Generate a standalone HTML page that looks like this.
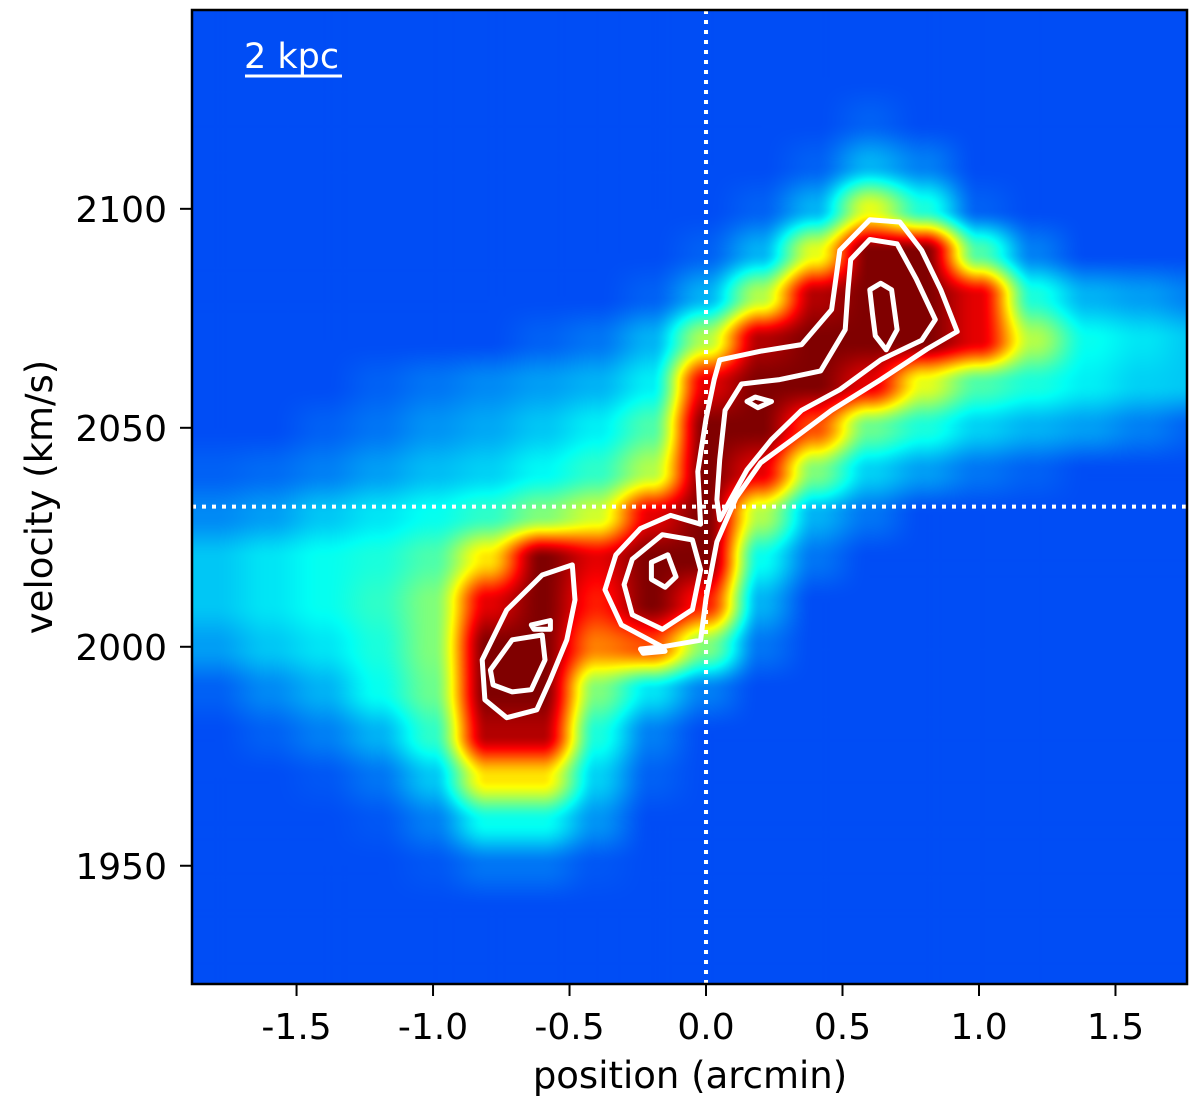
<!DOCTYPE html>
<html><head><meta charset="utf-8">
<style>
html,body{margin:0;padding:0;background:#fff;}
#wrap{position:relative;width:1200px;height:1105px;font-family:"DejaVu Sans","Liberation Sans",sans-serif;}
canvas{position:absolute;left:192px;top:10px;}
svg{position:absolute;left:0;top:0;}
</style></head>
<body>
<div id="wrap">
<canvas id="img" width="995" height="974"></canvas>
<svg id="ax" width="1200" height="1105"></svg>
</div>
<script>
// ---- data ----
const posGrid = [-1.8,-1.6,-1.4,-1.2,-1.0,-0.8,-0.6,-0.4,-0.2,0,0.2,0.4,0.6,0.8,1.0,1.2,1.4,1.6,1.8];
const velGrid = [2140,2130,2120,2110,2100,2090,2080,2070,2060,2050,2040,2030,2020,2010,2000,1990,1980,1970,1960,1950,1940,1930,1920];
const intensity = [
[.2,.2,.2,.2,.2,.2,.2,.2,.2,.2,.2,.2,.2,.2,.2,.2,.2,.2,.2],
[.2,.2,.2,.2,.2,.2,.2,.2,.2,.2,.2,.2,.2,.2,.2,.2,.2,.2,.2],
[.2,.2,.2,.2,.2,.2,.2,.2,.2,.2,.2,.2,.22,.2,.2,.2,.2,.2,.2],
[.2,.2,.2,.2,.2,.2,.2,.2,.2,.2,.2,.22,.3,.25,.2,.2,.2,.2,.2],
[.2,.2,.2,.2,.2,.2,.2,.2,.2,.2,.22,.3,.6,.4,.22,.2,.2,.2,.2],
[.2,.2,.2,.2,.2,.2,.2,.2,.2,.22,.3,.6,1,1,.45,.25,.2,.2,.2],
[.2,.2,.2,.2,.2,.2,.2,.2,.22,.3,.55,.95,1,1,.9,.4,.3,.28,.25],
[.2,.2,.2,.2,.2,.2,.22,.24,.3,.55,.95,1,1,1,.9,.55,.38,.35,.32],
[.2,.2,.2,.22,.24,.26,.28,.3,.36,.9,1,1,.9,.6,.45,.4,.36,.33,.32],
[.2,.2,.22,.24,.27,.29,.32,.36,.45,1,1,.8,.48,.4,.33,.3,.28,.25,.22],
[.22,.23,.25,.28,.31,.33,.37,.42,.55,1,.9,.5,.33,.28,.24,.22,.2,.2,.2],
[.26,.28,.32,.35,.38,.42,.5,.58,.9,1,.55,.3,.24,.2,.2,.2,.2,.2,.2],
[.32,.35,.38,.4,.45,.65,1,.9,1,1,.38,.24,.2,.2,.2,.2,.2,.2,.2],
[.32,.35,.38,.42,.5,.9,1,.85,1,.85,.3,.2,.2,.2,.2,.2,.2,.2,.2],
[.28,.32,.35,.4,.5,1,1,.75,.8,.5,.24,.2,.2,.2,.2,.2,.2,.2,.2],
[.22,.26,.3,.38,.48,1,1,.5,.35,.25,.2,.2,.2,.2,.2,.2,.2,.2,.2],
[.2,.22,.25,.3,.42,.95,.95,.4,.25,.2,.2,.2,.2,.2,.2,.2,.2,.2,.2],
[.2,.2,.21,.24,.32,.65,.65,.33,.22,.2,.2,.2,.2,.2,.2,.2,.2,.2,.2],
[.2,.2,.2,.21,.25,.38,.38,.27,.2,.2,.2,.2,.2,.2,.2,.2,.2,.2,.2],
[.2,.2,.2,.2,.21,.24,.24,.21,.2,.2,.2,.2,.2,.2,.2,.2,.2,.2,.2],
[.2,.2,.2,.2,.2,.2,.2,.2,.2,.2,.2,.2,.2,.2,.2,.2,.2,.2,.2],
[.2,.2,.2,.2,.2,.2,.2,.2,.2,.2,.2,.2,.2,.2,.2,.2,.2,.2,.2],
[.2,.2,.2,.2,.2,.2,.2,.2,.2,.2,.2,.2,.2,.2,.2,.2,.2,.2,.2]
];
const xTicks = [-1.5,-1.0,-0.5,0.0,0.5,1.0,1.5];
const xTickLabels = ["-1.5","-1.0","-0.5","0.0","0.5","1.0","1.5"];
const yTicks = [1950,2000,2050,2100];
const yTickLabels = ["1950","2000","2050","2100"];
const centerPos = 0.0;
const systemicVel = 2032;
// contour polylines (position arcmin, velocity km/s)
const contourOuterX = [-0.02,-0.03,0,0.03,0.05,0.2,0.35,0.46,0.49,0.6,0.71,0.79,0.86,0.92,0.81,0.64,0.46,0.31,0.2,0.11,0.04,0,-0.02,-0.16,-0.31,-0.37,-0.33,-0.24,-0.13];
const contourOuterV = [2028,2040,2052,2061,2065.5,2067.5,2069,2077,2090.5,2097.5,2097,2090.5,2081.5,2072,2068,2061,2054,2047,2042,2034,2024,2011,2001.5,2000,2005,2013,2021,2027,2030];
const contourRightX = [0.53,0.60,0.70,0.77,0.84,0.79,0.64,0.49,0.35,0.24,0.15,0.09,0.05,0.04,0.05,0.07,0.13,0.27,0.42,0.51,0.52];
const contourRightV = [2088.4,2093,2092,2084,2074.7,2070,2065.5,2058.7,2054,2047.3,2040.4,2033.6,2029,2033.6,2042.7,2054,2060,2061,2063,2072.4,2081.5];
const contourPeakRX = [0.6,0.64,0.68,0.70,0.66,0.62,0.61];
const contourPeakRV = [2081.5,2083,2081.5,2072.4,2067.8,2071,2076];
const contourSmallX = [0.15,0.18,0.24,0.19];
const contourSmallV = [2056,2057,2056,2054.6];
const contourMidX = [-0.27,-0.16,-0.05,-0.02,-0.05,-0.16,-0.27,-0.30];
const contourMidV = [2020,2025.6,2024.4,2017.6,2008.5,2004,2007.3,2014.2];
const contourPeakMX = [-0.2,-0.14,-0.11,-0.15,-0.2];
const contourPeakMV = [2019.3,2021,2016,2013.6,2015.4];
const contourLeftX = [-0.82,-0.73,-0.60,-0.49,-0.48,-0.51,-0.57,-0.62,-0.73,-0.81];
const contourLeftV = [1997,2008.4,2016.4,2018.7,2010.7,2001.6,1992.5,1985.6,1983.8,1987.9];
const contourPeakLX = [-0.79,-0.71,-0.6,-0.59,-0.64,-0.71,-0.78];
const contourPeakLV = [1994.7,2001.6,2002.7,1997,1990.2,1989.7,1991.3];
const contourBlobAX = [-0.64,-0.57,-0.57,-0.63];
const contourBlobAV = [2005,2006,2004,2004];
const contourBlobBX = [-0.24,-0.16,-0.15,-0.23];
const contourBlobBV = [1999.5,2000,1999,1998.5];

// ---- scales ----
const X0=192, X1=1187, Y0=10, Y1=984;
const xMin=-1.883, xMax=1.762, vMax=2145.4, vMin=1923;
const xs = p => X0 + (p-xMin)/(xMax-xMin)*(X1-X0);
const ys = v => Y0 + (vMax-v)/(vMax-vMin)*(Y1-Y0);
const xinv = px => xMin + (px-X0)/(X1-X0)*(xMax-xMin);
const yinv = py => vMax - (py-Y0)/(Y1-Y0)*(vMax-vMin);

function jet(t){
  const c=x=>Math.max(0,Math.min(1,x));
  return [c(1.5-Math.abs(4*t-3))*255, c(1.5-Math.abs(4*t-2))*255, c(1.5-Math.abs(4*t-1))*255];
}
// ---- image ----
(function(){
  const cv=document.getElementById('img'), ctx=cv.getContext('2d');
  const W=cv.width,H=cv.height, im=ctx.createImageData(W,H);
  const dp=posGrid[1]-posGrid[0], dv=velGrid[0]-velGrid[1];
  const sm=t=>t*t*(3-2*t);
  for(let j=0;j<H;j++){
    const v=yinv(Y0+j+0.5);
    let fy=(velGrid[0]-v)/dv; fy=Math.max(0,Math.min(velGrid.length-1.001,fy));
    const r0=Math.floor(fy), ty=sm(fy-r0);
    for(let i=0;i<W;i++){
      const p=xinv(X0+i+0.5);
      let fx=(p-posGrid[0])/dp; fx=Math.max(0,Math.min(posGrid.length-1.001,fx));
      const c0=Math.floor(fx), tx=sm(fx-c0);
      const a=intensity[r0][c0],b=intensity[r0][c0+1],c=intensity[r0+1][c0],d=intensity[r0+1][c0+1];
      const val=(a*(1-tx)+b*tx)*(1-ty)+(c*(1-tx)+d*tx)*ty;
      const col=jet(Math.min(1,Math.max(0,val)));
      const k=(j*W+i)*4;
      im.data[k]=col[0];im.data[k+1]=col[1];im.data[k+2]=Math.min(255,col[2])*0.96;im.data[k+3]=255;
    }
  }
  ctx.putImageData(im,0,0);
})();

// ---- svg ----
const NS='http://www.w3.org/2000/svg', svg=document.getElementById('ax');
function mk(tag,attrs,parent){const e=document.createElementNS(NS,tag);for(const k in attrs)e.setAttribute(k,attrs[k]);(parent||svg).appendChild(e);return e;}

const contours=[[contourOuterX,contourOuterV,'contour-outer'],[contourRightX,contourRightV,'contour-right-inner'],[contourPeakRX,contourPeakRV,'contour-right-peak'],[contourSmallX,contourSmallV,'contour-small'],[contourMidX,contourMidV,'contour-middle-inner'],[contourPeakMX,contourPeakMV,'contour-middle-peak'],[contourLeftX,contourLeftV,'contour-left'],[contourPeakLX,contourPeakLV,'contour-left-peak'],[contourBlobAX,contourBlobAV,'contour-blob-a'],[contourBlobBX,contourBlobBV,'contour-blob-b']];
contours.forEach(([cx,cvv,nm])=>{
  const pts=cx.map((p,i)=>xs(p).toFixed(1)+','+ys(cvv[i]).toFixed(1)).join(' ');
  const e=mk('polygon',{points:pts,fill:'none',stroke:'#fff','stroke-width':5,'stroke-linejoin':'round'});
  
  
});

const vl=mk('line',{x1:xs(centerPos),x2:xs(centerPos),y1:Y0,y2:Y1,stroke:'#fff','stroke-width':4,'stroke-dasharray':'4 6'});


const hl=mk('line',{x1:X0,x2:X1,y1:ys(systemicVel),y2:ys(systemicVel),stroke:'#fff','stroke-width':4,'stroke-dasharray':'4 6'});



const frame=mk('rect',{x:X0,y:Y0,width:X1-X0,height:Y1-Y0,fill:'none',stroke:'#000','stroke-width':2.5});



xTicks.forEach((t,i)=>{
  const x=xs(t);
  const tk=mk('line',{x1:x,x2:x,y1:Y1,y2:Y1+12,stroke:'#000','stroke-width':2});
  
  
  const lb=mk('text',{x:x,y:1039,'text-anchor':'middle','font-size':36,fill:'#000'});
  lb.textContent=xTickLabels[i];
  
  
});
yTicks.forEach((t,i)=>{
  const y=ys(t);
  const tk=mk('line',{x1:X0-12,x2:X0,y1:y,y2:y,stroke:'#000','stroke-width':2});
  
  
  const lb=mk('text',{x:167,y:y+13,'text-anchor':'end','font-size':36,fill:'#000'});
  lb.textContent=yTickLabels[i];
  
  
});
const xl=mk('text',{x:690,y:1088,'text-anchor':'middle','font-size':37,fill:'#000'});
xl.textContent='position (arcmin)';


const yl=mk('text',{x:0,y:0,'text-anchor':'middle','font-size':37,fill:'#000',transform:'translate(52,497) rotate(-90)'});
yl.textContent='velocity (km/s)';



const sb=mk('text',{x:244,y:68,'font-size':35,fill:'#fff'});
sb.textContent='2 kpc';


const sbl=mk('line',{x1:245,x2:342,y1:76,y2:76,stroke:'#fff','stroke-width':3});


</script>
</body></html>
